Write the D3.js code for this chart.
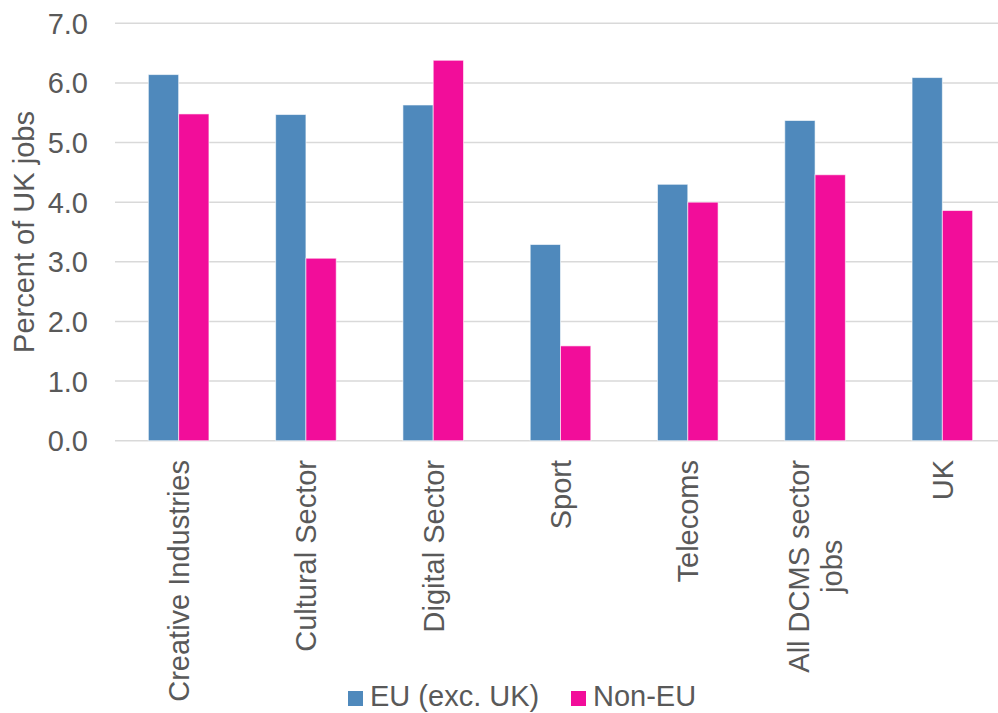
<!DOCTYPE html>
<html>
<head>
<meta charset="utf-8">
<script src="https://cdn.jsdelivr.net/npm/d3@7"></script>
<style>
  body { margin: 0; background: #fff; }
  text { font-family: Arial, "Liberation Sans", sans-serif; fill: #595959; }
</style>
</head>
<body>
<svg id="chart" width="998" height="713"></svg>
<script>
// Categories and values
const categories = ["Creative Industries", "Cultural Sector", "Digital Sector", "Sport", "Telecoms", "All DCMS sector\njobs", "UK"];
const seriesNames = ["EU (exc. UK)", "Non-EU"];
const euValues = [6.14, 5.47, 5.63, 3.29, 4.30, 5.37, 6.09];
const nonEuValues = [5.48, 3.06, 6.38, 1.59, 4.00, 4.46, 3.86];
const yTicks = [0, 1, 2, 3, 4, 5, 6, 7];
const colors = ["#4f89bc", "#f20d9a"];

let svg = d3.select("#chart");
let fontSize = 29;

let x = d3.scaleBand().domain(categories).range([115, 1006])
    .paddingInner(0.524).paddingOuter(0.262);
let xInner = d3.scaleBand().domain(seriesNames).range([0, x.bandwidth()]);
let y = d3.scaleLinear().domain([0, 7]).range([440.7, 23.3]);

// gridlines
svg.append("g").selectAll("line").data(yTicks).enter().append("line")
    .attr("x1", 115).attr("x2", 998)
    .attr("y1", d => y(d)).attr("y2", d => y(d))
    .attr("stroke", "#d9d9d9").attr("stroke-width", 1.4);

// y tick labels
svg.append("g").selectAll("text").data(yTicks).enter().append("text")
    .attr("x", 88).attr("y", d => y(d)).attr("dy", "0.36em")
    .attr("text-anchor", "end").style("font-size", fontSize + "px")
    .text(d => d.toFixed(1));

// y axis title
svg.append("text")
    .attr("transform", "translate(24," + (y(3.5)) + ") rotate(-90)")
    .attr("text-anchor", "middle").attr("dy", "0.36em")
    .style("font-size", fontSize + "px")
    .text("Percent of UK jobs");

// bars
let rows = categories.map((c, i) => ({cat: c, vals: [euValues[i], nonEuValues[i]]}));
let groups = svg.append("g").selectAll("g").data(rows).enter().append("g")
    .attr("transform", d => "translate(" + x(d.cat) + ",0)");
groups.selectAll("rect").data(d => d.vals.map((v, j) => ({name: seriesNames[j], v: v, j: j})))
    .enter().append("rect")
    .attr("x", d => xInner(d.name))
    .attr("width", xInner.bandwidth())
    .attr("y", d => y(d.v))
    .attr("height", d => y(0) - y(d.v))
    .attr("fill", d => colors[d.j])
    .attr("stroke", "#ffffff").attr("stroke-opacity", 0.6).attr("stroke-width", 1);

// category labels, rotated, multi-line centred
let lineH = 33;
categories.forEach(c => {
    let lines = c.split("\n");
    let cx = x(c) + x.bandwidth() / 2;
    let g = svg.append("g");
    let texts = lines.map((l, k) => g.append("text")
        .style("font-size", fontSize + "px").attr("text-anchor", "middle").text(l));
    let maxW = d3.max(texts, t => t.node().getComputedTextLength());
    let cy = 460 + maxW / 2;
    texts.forEach((t, k) => {
        let lx = cx + (k - (lines.length - 1) / 2) * lineH;
        t.attr("transform", "translate(" + lx + "," + cy + ") rotate(-90)")
         .attr("dy", "0.36em");
    });
});

// legend
let legend = svg.append("g");
let legX = [348, 571];
seriesNames.forEach((s, j) => {
    legend.append("rect").attr("x", legX[j]).attr("y", 691).attr("width", 15).attr("height", 15)
        .attr("fill", colors[j]);
    legend.append("text").attr("x", legX[j] + 22).attr("y", 706)
        .style("font-size", fontSize + "px").text(s);
});
</script>
</body>
</html>
